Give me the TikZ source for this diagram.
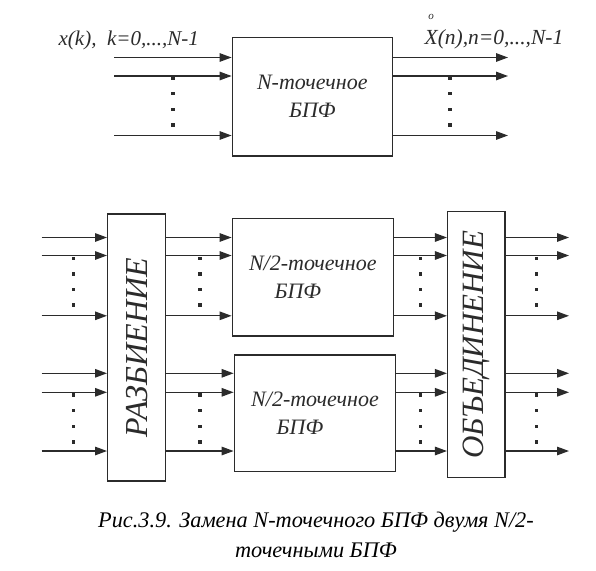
\documentclass[tikz,border=0pt]{standalone}
\usepackage{fontspec}
\setmainfont{Liberation Serif}
\usetikzlibrary{arrows.meta}

\definecolor{ink}{HTML}{2B2B2B}
\tikzset{
  blok/.style={draw=ink, line width=1.4pt, inner sep=0pt, align=center, text=ink,
    font=\itshape\fontsize{22}{28}\selectfont},
  arr/.style={draw=ink, line width=1.3pt, -{Triangle[length=12pt,width=8.5pt]}},
  lbl/.style={font=\itshape\fontsize{21}{26}\selectfont, text=ink, inner sep=0pt},
}

\begin{document}
\begin{tikzpicture}[x=1pt,y=-1pt]
\useasboundingbox (0,0) rectangle (596,570);
% N-точечное БПФ
\node[blok, minimum width=160pt, minimum height=118.7pt] (fft) at (312.3,96.6) {N-точечное\\БПФ};
\node[lbl, anchor=base] (xin) at (128.7,45) {x(k),\ \ k=0,...,N-1};
\node[lbl, anchor=base] (xout) at (494,44)
  {\fontsize{21.5}{26}\selectfont X\llap{\raisebox{25pt}{\fontsize{11}{11}\selectfont o}\hspace{4pt}}(n),n=0,...,N-1};
\foreach \y [count=\i] in {57.5,76,135.5}{
  \coordinate (a\i) at (114,\y);
  \coordinate (b\i) at (508,\y);
  \draw[arr] (a\i) -- (fft.west |- a\i);
  \draw[arr] (fft.east |- b\i) -- (b\i);
}
% два N/2-точечных БПФ
\node[blok, minimum width=58pt, minimum height=267pt] (razb) at (136.7,347.5)
  {\fontsize{32}{32}\selectfont\rotatebox{90}{РАЗБИЕНИЕ}};
\node[blok, minimum width=161pt, minimum height=117.7pt] (fftA) at (312.8,277.2) {N/2-точечное\\БПФ\hspace*{30pt}};
\node[blok, minimum width=161.4pt, minimum height=116.7pt] (fftB) at (315,413.3) {N/2-точечное\\БПФ\hspace*{30pt}};
\node[blok, minimum width=57.3pt, minimum height=266pt] (obed) at (476.3,344.7)
  {\fontsize{31}{31}\selectfont\rotatebox{90}{ОБЪЕДИНЕНИЕ}};
\foreach \y/\f [count=\i] in {237.5/fftA,255.5/fftA,315.8/fftA,373.3/fftB,392.3/fftB,451/fftB}{
  \coordinate (p\i) at (41.7,\y);
  \coordinate (q\i) at (569,\y);
  \draw[arr] (p\i) -- (razb.west |- p\i);
  \draw[arr] (razb.east |- p\i) -- (\f.west |- p\i);
  \draw[arr] (\f.east |- p\i) -- (obed.west |- p\i);
  \draw[arr] (obed.east |- p\i) -- (q\i);
}
% точки
\foreach \x/\y in {173/78,450/78,73.3/258.3,200/258.3,420.7/258.3,536.7/258.3,
                   73.3/395,200/395,420.7/395,536.7/395}
  \foreach \k in {0,...,3}
    \fill[ink] ({\x-1.7},{\y+15.6*\k-1.7}) rectangle ++(3.4,3.4);
\node[font=\itshape\fontsize{22.3}{30}\selectfont, align=center, anchor=north, inner sep=0pt] (podpis) at (316,512)
  {Рис.3.9. Замена N-точечного БПФ двумя N/2-\\точечными БПФ};
\end{tikzpicture}
\end{document}
